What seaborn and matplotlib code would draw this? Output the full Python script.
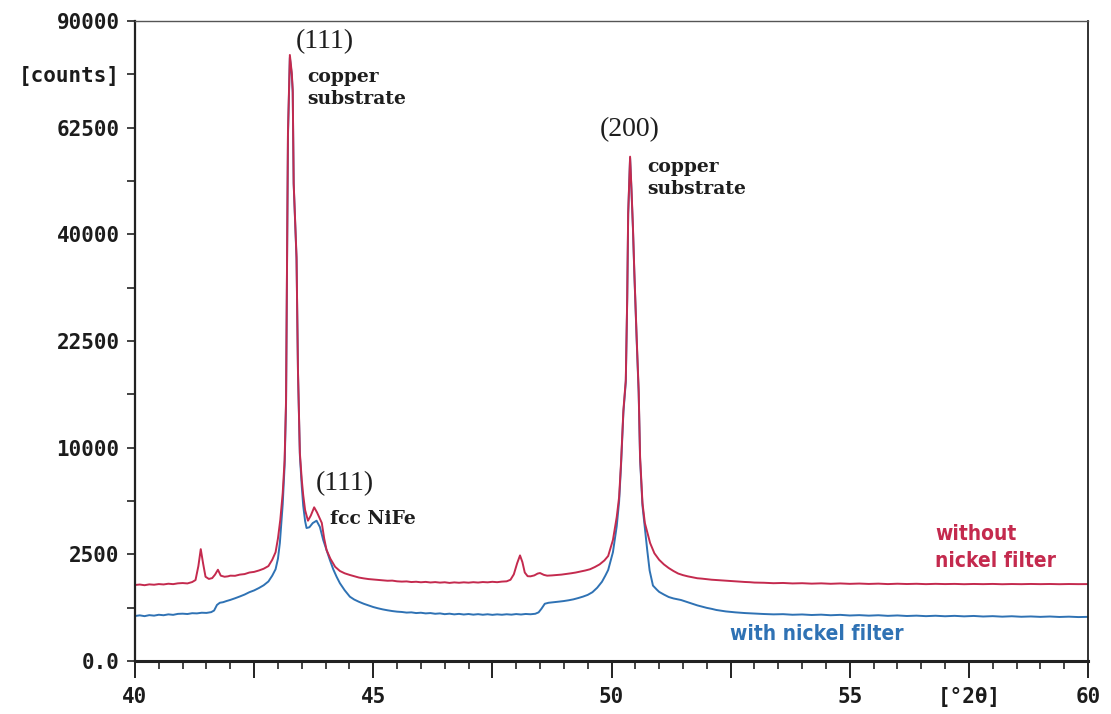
import numpy as np
import pandas as pd
import matplotlib
matplotlib.use("Agg")
import matplotlib.pyplot as plt
from matplotlib import font_manager
import seaborn as sns

# ---------------- data ----------------
red_two_theta = [
    40.0, 40.1, 40.2, 40.3, 40.4, 40.5, 40.6, 40.7, 40.8, 40.9, 41.0, 41.1, 41.2,
    41.27, 41.33, 41.38, 41.43, 41.48, 41.55, 41.62, 41.68, 41.74, 41.8, 41.88, 41.95,
    42.0, 42.1, 42.2, 42.3, 42.4, 42.5, 42.6, 42.7, 42.8, 42.88, 42.95,
    43.0, 43.05, 43.1, 43.14, 43.17, 43.21, 43.25, 43.29, 43.31, 43.33, 43.39, 43.42,
    43.46, 43.5, 43.53, 43.57, 43.63, 43.69, 43.76, 43.82, 43.92, 43.97,
    44.02, 44.1, 44.2, 44.3, 44.4, 44.51, 44.6, 44.7, 44.8, 44.9,
    45.0, 45.1, 45.2, 45.3, 45.4, 45.5, 45.6, 45.7, 45.8, 45.9,
    46.0, 46.1, 46.2, 46.3, 46.4, 46.5, 46.6, 46.7, 46.8, 46.9,
    47.0, 47.1, 47.2, 47.3, 47.4, 47.5, 47.6, 47.7, 47.8, 47.88, 47.95,
    48.02, 48.08, 48.13, 48.18, 48.24, 48.3, 48.38, 48.45, 48.5, 48.58, 48.65, 48.75, 48.85, 48.95,
    49.05, 49.15, 49.25, 49.35, 49.45, 49.55, 49.65, 49.75, 49.85, 49.93,
    50.03, 50.11, 50.16, 50.2, 50.25, 50.3, 50.33, 50.35, 50.39, 50.42, 50.45, 50.48,
    50.53, 50.57, 50.6, 50.65, 50.7, 50.81, 50.9,
    51.0, 51.1, 51.2, 51.3, 51.4, 51.5, 51.6, 51.7, 51.8, 51.9,
    52.0, 52.1, 52.2, 52.3, 52.4, 52.5, 52.6, 52.7, 52.8, 52.9,
    53.0, 53.2, 53.4, 53.6, 53.8, 54.0, 54.2, 54.4, 54.6, 54.8,
    55.0, 55.2, 55.4, 55.6, 55.8, 56.0, 56.2, 56.4, 56.6, 56.8,
    57.0, 57.2, 57.4, 57.6, 57.8, 58.0, 58.2, 58.4, 58.6, 58.8,
    59.0, 59.2, 59.4, 59.6, 59.8, 60.0,
]
red_counts = [
    1270, 1285, 1262, 1290, 1278, 1300, 1288, 1312, 1298, 1325, 1335, 1322, 1370,
    1440, 1980, 2750, 2080, 1560, 1480, 1510, 1640, 1830, 1600, 1560, 1575,
    1600, 1595, 1640, 1660, 1720, 1745, 1800, 1870, 1980, 2250, 2600,
    3300, 4400, 6200, 8880, 14970, 61260, 80700, 76000, 71650, 50210, 35870, 18610,
    9506, 7200, 6055, 5000, 4325, 4650, 5190, 4850, 4190, 3300,
    2707, 2300, 1950, 1780, 1690, 1625, 1580, 1530, 1500, 1475,
    1460, 1445, 1430, 1415, 1420, 1395, 1385, 1392, 1370, 1380,
    1362, 1375, 1355, 1368, 1350, 1362, 1340, 1358, 1345, 1360,
    1348, 1365, 1352, 1370, 1360, 1378, 1365, 1385, 1395, 1450, 1650,
    2100, 2450, 2150, 1720, 1580, 1575, 1610, 1680, 1700, 1630, 1600, 1610, 1625, 1640,
    1665, 1690, 1720, 1760, 1800, 1850, 1940, 2050, 2220, 2423,
    3217, 4556, 5910, 8615, 13840, 17350, 29110, 44100, 55890, 48750, 41390, 33090,
    22650, 16140, 9146, 5486, 4185, 3060, 2550,
    2250, 2050, 1900, 1780, 1680, 1620, 1575, 1540, 1505, 1490,
    1470, 1452, 1440, 1425, 1418, 1402, 1395, 1380, 1372, 1365,
    1352, 1345, 1330, 1338, 1322, 1330, 1315, 1325, 1310, 1322,
    1308, 1318, 1305, 1315, 1300, 1312, 1302, 1310, 1298, 1308,
    1300, 1306, 1296, 1304, 1298, 1305, 1295, 1302, 1297, 1304,
    1298, 1303, 1296, 1302, 1298, 1300,
]

blue_two_theta = [
    40.0, 40.1, 40.2, 40.3, 40.4, 40.5, 40.6, 40.7, 40.8, 40.9, 41.0, 41.1, 41.2, 41.3,
    41.4, 41.5, 41.6, 41.66, 41.72, 41.78, 41.85, 41.92,
    42.0, 42.1, 42.2, 42.3, 42.4, 42.5, 42.6, 42.7, 42.8, 42.88, 42.95,
    43.0, 43.04, 43.1, 43.14, 43.17, 43.21, 43.25, 43.29, 43.31, 43.33, 43.39, 43.42,
    43.46, 43.5, 43.53, 43.57, 43.6, 43.66, 43.73, 43.81, 43.88, 43.95,
    44.02, 44.09, 44.16, 44.23, 44.3, 44.4, 44.51, 44.6, 44.7, 44.8, 44.9,
    45.0, 45.1, 45.2, 45.3, 45.4, 45.5, 45.6, 45.7, 45.8, 45.9,
    46.0, 46.1, 46.2, 46.3, 46.4, 46.5, 46.6, 46.7, 46.8, 46.9,
    47.0, 47.1, 47.2, 47.3, 47.4, 47.5, 47.6, 47.7, 47.8, 47.9,
    48.0, 48.1, 48.2, 48.3, 48.4, 48.47, 48.53, 48.6, 48.68, 48.8, 48.9,
    49.0, 49.1, 49.2, 49.3, 49.4, 49.5, 49.6, 49.7, 49.8, 49.87, 49.93,
    50.03, 50.11, 50.16, 50.2, 50.25, 50.3, 50.33, 50.35, 50.39, 50.42, 50.45, 50.48,
    50.53, 50.57, 50.6, 50.65, 50.7, 50.75, 50.8, 50.87, 50.95,
    51.0, 51.1, 51.2, 51.3, 51.46, 51.6, 51.7, 51.8, 51.9,
    52.0, 52.1, 52.2, 52.3, 52.4, 52.5, 52.6, 52.8,
    53.0, 53.2, 53.4, 53.6, 53.8, 54.0, 54.2, 54.4, 54.6, 54.8,
    55.0, 55.2, 55.4, 55.6, 55.8, 56.0, 56.2, 56.4, 56.6, 56.8,
    57.0, 57.2, 57.4, 57.6, 57.8, 58.0, 58.2, 58.4, 58.6, 58.8,
    59.0, 59.2, 59.4, 59.6, 59.8, 60.0,
]
blue_counts = [
    445, 458, 442, 462, 452, 470, 460, 478, 468, 488, 492, 485, 502, 498,
    512, 508, 525, 560, 690, 745, 760, 790,
    820, 865, 915, 970, 1040, 1095, 1170, 1260, 1390, 1600, 1850,
    2300, 3060, 5400, 8400, 14500, 60500, 80000, 75500, 71000, 50000, 35500, 18400,
    9300, 6700, 5300, 4300, 3886, 3930, 4180, 4325, 3950, 3217,
    2700, 2240, 1850, 1562, 1330, 1100, 908, 830, 770, 720, 680,
    640, 610, 585, 565, 548, 535, 528, 515, 520, 505,
    512, 498, 505, 490, 498, 482, 492, 478, 488, 475,
    485, 472, 482, 470, 480, 468, 478, 470, 480, 472,
    484, 475, 486, 480, 490, 520, 600, 720, 745, 760, 775,
    790, 810, 835, 870, 910, 960, 1040, 1180, 1380, 1600, 1820,
    2600, 4000, 5600, 8400, 13600, 17100, 28800, 43800, 55600, 48400, 41000, 32800,
    22300, 15800, 8900, 5300, 3900, 2700, 1800, 1250, 1120,
    1050, 970, 900, 860, 817, 760, 720, 680, 650,
    620, 598, 572, 555, 540, 530, 520, 505,
    495, 485, 478, 482, 470, 476, 465, 472, 460, 468,
    455, 462, 452, 460, 448, 456, 445, 452, 442, 450,
    440, 448, 438, 446, 435, 442, 432, 440, 430, 436,
    428, 435, 426, 432, 424, 428,
]

series_names = ["with nickel filter", "without nickel filter"]
series_colors = ["#2f72b4", "#c42a4e"]

y_ticks = [0, 625, 2500, 5625, 10000, 15625, 22500, 30625, 40000, 50625, 62500, 75625, 90000]
y_tick_labels = ["0.0", "", "2500", "", "10000", "", "22500", "", "40000", "", "62500", "[counts]", "90000"]
x_major_ticks = [40, 42.5, 45, 47.5, 50, 52.5, 55, 57.5, 60]
x_tick_labels = ["40", "", "45", "", "50", "", "55", "[°2θ]", "60"]

# ---------------- figure ----------------
sns.set_style("white")

mono = "DejaVu Sans Mono"
names = {f.name for f in font_manager.fontManager.ttflist}
serif_num = "Liberation Serif" if "Liberation Serif" in names else "DejaVu Serif"
if "Liberation Sans Narrow" in names:
    label_font, label_stretch = "Liberation Sans Narrow", "normal"
else:
    cond = any(f.name == "DejaVu Sans" and "ondensed" in str(f.stretch) or
               (f.name == "DejaVu Sans" and isinstance(f.stretch, (int, float)) and f.stretch < 500)
               for f in font_manager.fontManager.ttflist)
    label_font, label_stretch = "DejaVu Sans", ("condensed" if cond else "normal")

df = pd.concat([
    pd.DataFrame({"two_theta": blue_two_theta, "counts": blue_counts, "series": series_names[0]}),
    pd.DataFrame({"two_theta": red_two_theta, "counts": red_counts, "series": series_names[1]}),
], ignore_index=True)

fig = plt.figure(figsize=(11.11, 7.14), dpi=100)
ax = fig.add_axes([135 / 1111, 1 - 661 / 714, (1088 - 135) / 1111, (661 - 21) / 714])

ax.set_yscale("function", functions=(lambda v: np.sqrt(np.clip(v, 0, None)), lambda s: np.square(s)))

sns.lineplot(data=df, x="two_theta", y="counts", hue="series", hue_order=series_names,
             palette=dict(zip(series_names, series_colors)), estimator=None, sort=False,
             linewidth=1.4, legend=False, ax=ax)

ax.set_xlim(40, 60)
ax.set_ylim(0, 90000)
ax.set_xlabel("")
ax.set_ylabel("")

ax.set_yticks(y_ticks)
ax.set_yticklabels(y_tick_labels)
ax.yaxis.set_minor_locator(matplotlib.ticker.NullLocator())
ax.set_xticks(x_major_ticks)
ax.set_xticklabels(x_tick_labels)
ax.set_xticks(np.arange(40, 60.01, 0.5), minor=True)

ax.tick_params(which="both", bottom=True, left=True, top=False, right=False)
ax.tick_params(axis="y", which="major", direction="out", length=6, width=1.2, pad=5, color="#222222")
ax.tick_params(axis="x", which="major", direction="out", length=12, width=1.4, pad=7, color="#222222")
ax.tick_params(axis="x", which="minor", direction="out", length=6, width=1.2, color="#222222")

for lab in ax.get_xticklabels() + ax.get_yticklabels():
    lab.set_fontfamily(mono)
    lab.set_fontweight("bold")
    lab.set_fontsize(15)
    lab.set_color("#1c1c1c")

ax.spines["left"].set_linewidth(1.6)
ax.spines["bottom"].set_linewidth(2.2)
ax.spines["right"].set_linewidth(1.3)
ax.spines["top"].set_linewidth(1.0)
ax.spines["top"].set_color("#555555")
for s in ["left", "bottom", "right"]:
    ax.spines[s].set_color("#222222")

# ---------------- annotations ----------------
txt = "#1e1e1e"
ax.text(43.99, 84200, "(111)", family=serif_num, fontsize=20, color=txt, ha="center", va="center")
ax.text(43.61, 72150, "copper\nsubstrate", family="DejaVu Serif", fontweight="bold", fontsize=13.5,
        color=txt, ha="left", va="center", linespacing=1.3)
ax.text(50.39, 61960, "(200)", family=serif_num, fontsize=20, color=txt, ha="center", va="center")
ax.text(50.745, 51260, "copper\nsubstrate", family="DejaVu Serif", fontweight="bold", fontsize=13.5,
        color=txt, ha="left", va="center", linespacing=1.3)
ax.text(44.41, 6885, "(111)", family=serif_num, fontsize=20, color=txt, ha="center", va="center")
ax.text(44.09, 4431, "fcc NiFe", family="DejaVu Serif", fontweight="bold", fontsize=13.5,
        color=txt, ha="left", va="center")

ax.text(56.79, 2830, "without\nnickel filter", family=label_font, fontstretch=label_stretch,
        fontweight="bold", fontsize=15, color=series_colors[1], ha="left", va="center", linespacing=1.4)
ax.text(52.49, 160, "with nickel filter", family=label_font, fontstretch=label_stretch,
        fontweight="bold", fontsize=15, color=series_colors[0], ha="left", va="center")

fig.savefig("out.png", dpi=100, facecolor="white")
